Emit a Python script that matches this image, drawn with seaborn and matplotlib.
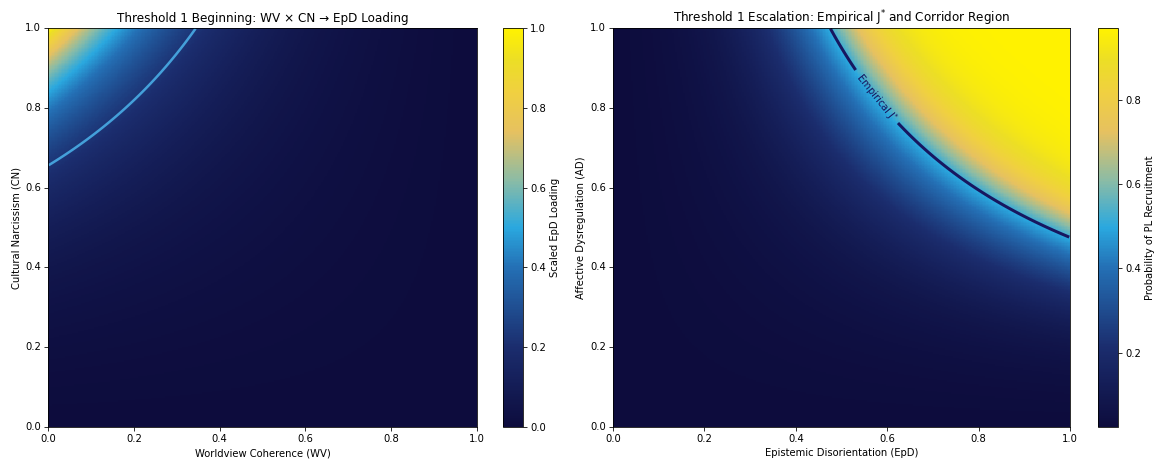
import matplotlib.pyplot as plt
import numpy as np
import seaborn as sns
from matplotlib.colors import LinearSegmentedColormap

# Grid resolution and shared tick values
N_CELLS = 300
TICK_VALUES = [0.0, 0.2, 0.4, 0.6, 0.8, 1.0]
TICK_LABELS = ["0.0", "0.2", "0.4", "0.6", "0.8", "1.0"]

# Panel 1: WV x CN -> EpD loading
EPD_RATE = 4.2          # steepness of the loading near the (WV=0, CN=1) corner
EPD_THRESHOLD = 0.655   # (1 - WV) * CN level of the drawn contour

# Panel 2: EpD x AD -> recruitment probability
P_CENTER = 0.47         # EpD * AD value at the middle of the rise
P_SLOPE_BELOW = 10.0    # gradual rise below the corridor
P_SLOPE_ABOVE = 16.0    # fast saturation above it
P_FLOOR = 0.015
P_CEIL = 0.97
J_STAR = 0.475          # empirical J* (EpD * AD level of the contour)

titles = [
    "Threshold 1 Beginning: WV \u00d7 CN \u2192 EpD Loading",
    "Threshold 1 Escalation: Empirical J$^{*}$ and Corridor Region",
]
x_labels = ["Worldview Coherence (WV)", "Epistemic Disorientation (EpD)"]
y_labels = ["Cultural Narcissism (CN)", "Affective Dysregulation (AD)"]
cbar_labels = ["Scaled EpD Loading", "Probability of PL Recruitment"]

cmap = LinearSegmentedColormap.from_list(
    "corridor",
    [
        (0.00, "#0d0c3d"),
        (0.20, "#1b2d6e"),
        (0.40, "#2470b5"),
        (0.50, "#2aa8df"),
        (0.62, "#8cbca5"),
        (0.74, "#e6c160"),
        (0.84, "#f0d040"),
        (0.92, "#ecde26"),
        (1.00, "#fff200"),
    ],
)

# Cell centres on the unit square
axis_vals = (np.arange(N_CELLS) + 0.5) / N_CELLS
X, Y = np.meshgrid(axis_vals, axis_vals)

# EpD loading surface
interaction = (1 - X) * Y
epd_loading = (np.exp(EPD_RATE * interaction) - 1) / (np.exp(EPD_RATE) - 1)

# Recruitment probability surface
product = X * Y
slope = np.where(product < P_CENTER, P_SLOPE_BELOW, P_SLOPE_ABOVE)
p_recruit = P_FLOOR + (P_CEIL - P_FLOOR) / (1 + np.exp(-slope * (product - P_CENTER)))

fig = plt.figure(figsize=(16, 6.39), dpi=1157 / 16)
ax1 = fig.add_axes([0.0415, 0.0758, 0.3708, 0.8636])
cax1 = fig.add_axes([0.4347, 0.0758, 0.0173, 0.8636])
ax2 = fig.add_axes([0.5298, 0.0758, 0.3950, 0.8636])
cax2 = fig.add_axes([0.9490, 0.0758, 0.0173, 0.8636])

Xc = X * N_CELLS
Yc = Y * N_CELLS


def draw_panel(ax, cax, field, idx, cbar_ticks=None, vmin=None, vmax=None):
    sns.heatmap(
        field,
        ax=ax,
        cbar_ax=cax,
        cmap=cmap,
        vmin=vmin,
        vmax=vmax,
        xticklabels=False,
        yticklabels=False,
        linewidths=0,
        rasterized=True,
    )
    ax.invert_yaxis()
    ax.set_xticks(np.array(TICK_VALUES) * N_CELLS)
    ax.set_yticks(np.array(TICK_VALUES) * N_CELLS)
    ax.set_xticklabels(TICK_LABELS, rotation=0)
    ax.set_yticklabels(TICK_LABELS, rotation=0, va="center")
    ax.tick_params(length=3.5, width=0.8)
    ax.set_title(titles[idx], fontsize=12)
    ax.set_xlabel(x_labels[idx], fontsize=10)
    ax.set_ylabel(y_labels[idx], fontsize=10)
    for spine in ax.spines.values():
        spine.set_visible(True)
        spine.set_linewidth(0.8)

    cbar = ax.collections[0].colorbar
    cbar.outline.set_visible(True)
    cbar.outline.set_linewidth(0.8)
    cbar.set_label(cbar_labels[idx], fontsize=10)
    if cbar_ticks is not None:
        cbar.set_ticks(cbar_ticks)
    cax.tick_params(labelsize=10, length=3.5, width=0.8)


draw_panel(ax1, cax1, epd_loading, 0, cbar_ticks=TICK_VALUES, vmin=0, vmax=1)
ax1.contour(Xc, Yc, interaction, levels=[EPD_THRESHOLD], colors="#44a0da", linewidths=2.5)

draw_panel(ax2, cax2, p_recruit, 1)
cs = ax2.contour(Xc, Yc, product, levels=[J_STAR], colors="#171760", linewidths=3)
ax2.clabel(
    cs,
    fmt={J_STAR: "Empirical J$^{*}$"},
    inline=True,
    fontsize=10,
    manual=[(0.575 * N_CELLS, 0.826 * N_CELLS)],
)

plt.savefig("out.png", dpi=1157 / 16)
